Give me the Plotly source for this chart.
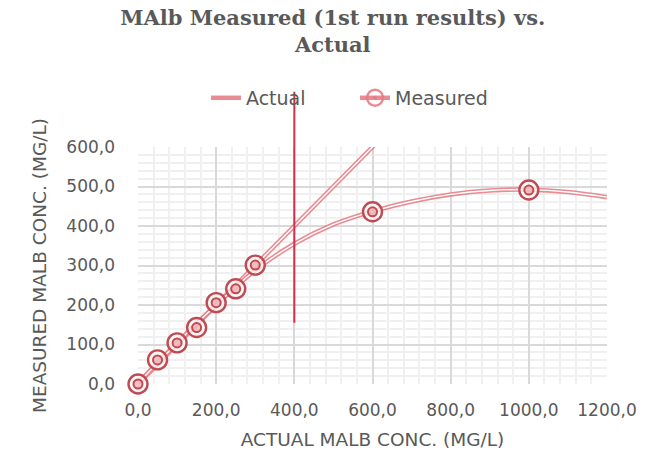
import plotly.graph_objects as go

# ---- data ----
measured_x = [0, 50, 100, 150, 200, 250, 300, 600, 1000]
measured_y = [0, 61, 104, 143, 206, 241, 301, 436, 491]
actual_x = [0, 50, 100, 150, 200, 250, 300, 600, 1000]
actual_y = [0, 50, 100, 150, 200, 250, 300, 600, 1000]
trend_x = [0, 100, 200, 300, 400, 500, 600, 700, 800, 900, 1000, 1100, 1200]
trend_y = [2, 104, 200, 288, 355, 404, 437, 462, 480, 490, 492, 486, 473]
vline_x = 400
vline_y = [155, 740]

x_ticks = [0, 200, 400, 600, 800, 1000, 1200]
y_ticks = [0, 100, 200, 300, 400, 500, 600]

PINK = "rgba(228,120,128,0.85)"
RING = "#BF4B52"
GRAY = "#595959"
FONT = "DejaVu Sans"

fig = go.Figure()


def double_line(x, y, name=None, legend=False, shape="linear"):
    fig.add_trace(go.Scatter(x=x, y=y, mode="lines", name=name, showlegend=legend,
                             line=dict(color=PINK, width=4.5, shape=shape),
                             hoverinfo="skip"))
    fig.add_trace(go.Scatter(x=x, y=y, mode="lines", showlegend=False,
                             line=dict(color="white", width=1.4, shape=shape),
                             hoverinfo="skip"))


double_line(actual_x, actual_y, name="Actual", legend=True)
double_line(trend_x, trend_y, shape="spline")

# measured markers: outer ring + inner ring
fig.add_trace(go.Scatter(x=measured_x, y=measured_y, mode="markers", showlegend=False,
                         cliponaxis=False,
                         marker=dict(symbol="circle", size=19, color="rgba(255,245,245,0.75)",
                                     line=dict(color=RING, width=2.4))))
fig.add_trace(go.Scatter(x=measured_x, y=measured_y, mode="markers", showlegend=False,
                         cliponaxis=False,
                         marker=dict(symbol="circle", size=9, color="rgba(232,150,155,0.55)",
                                     line=dict(color=RING, width=2.0))))
# legend entry for Measured
fig.add_trace(go.Scatter(x=[None], y=[None], mode="lines+markers", name="Measured",
                         line=dict(color=PINK, width=4.5),
                         marker=dict(symbol="circle-open-dot", size=16,
                                     line=dict(color=RING, width=2.4))))

y_lo, y_hi = y_ticks[0], y_ticks[-1]
fig.add_shape(type="line", xref="x", yref="paper",
              x0=vline_x, x1=vline_x,
              y0=(vline_y[0] - y_lo) / (y_hi - y_lo), y1=(vline_y[1] - y_lo) / (y_hi - y_lo),
              line=dict(color="#D2304E", width=2), layer="above")

fig.update_layout(
    width=659, height=452,
    margin=dict(l=138, r=52, t=147, b=68, autoexpand=False),
    paper_bgcolor="white", plot_bgcolor="white",
    separators=",.",
    font=dict(family=FONT, color=GRAY, size=17),
    title=dict(text="MAlb Measured (1st run results) vs.<br>Actual",
               font=dict(family="DejaVu Serif", size=21, color=GRAY, weight="bold"),
               x=0.505, xref="container", xanchor="center",
               y=0.945, yref="container", yanchor="top"),
    legend=dict(orientation="h", x=0.145, xanchor="left", y=1.207, yanchor="middle",
                font=dict(size=19, color=GRAY), itemwidth=30, entrywidth=104,
                tracegroupgap=0, bgcolor="rgba(0,0,0,0)"),
    xaxis=dict(range=[x_ticks[0], x_ticks[-1]], tickvals=x_ticks, tickformat=".1f",
               showgrid=True, gridcolor="#D9D9D9", gridwidth=1.5,
               zeroline=False, showline=False, ticks="", ticklabelstandoff=14,
               minor=dict(dtick=40, showgrid=True, gridcolor="#F0F0F0", gridwidth=1.5),
               title=dict(text="ACTUAL MALB CONC. (MG/L)", font=dict(size=18.5, color=GRAY),
                          standoff=14),
               tickfont=dict(size=17, color=GRAY)),
    yaxis=dict(range=[y_lo, y_hi], tickvals=y_ticks, tickformat=".1f",
               showgrid=True, gridcolor="#D9D9D9", gridwidth=1.5,
               zeroline=False, showline=False, ticks="", ticklabelstandoff=22,
               minor=dict(dtick=20, showgrid=True, gridcolor="#F0F0F0", gridwidth=1.5),
               title=dict(text="MEASURED MALB CONC. (MG/L)", font=dict(size=18.5, color=GRAY),
                          standoff=14),
               tickfont=dict(size=17, color=GRAY)),
)

fig.write_html("out.html", config={"displayModeBar": False},
               post_script="document.body.style.margin='0';")
